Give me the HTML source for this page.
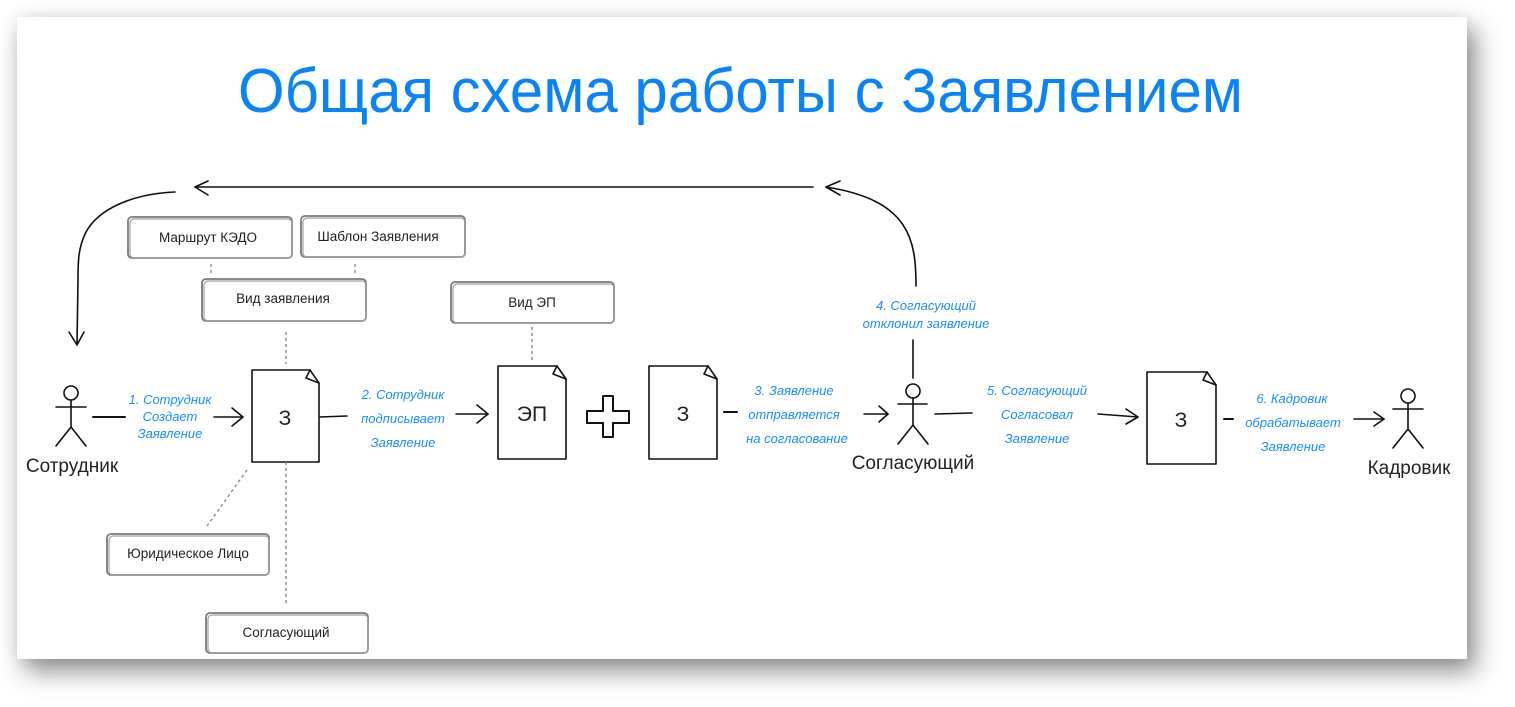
<!DOCTYPE html>
<html><head><meta charset="utf-8">
<style>
html,body{margin:0;padding:0;background:#fff;width:1515px;height:707px;overflow:hidden;}
.card{position:absolute;left:17px;top:17px;width:1450px;height:642px;background:#fff;
box-shadow:8px 12px 24px rgba(0,0,0,0.45),0 0 16px rgba(0,0,0,0.07);}
svg{position:absolute;left:0;top:0;}
text{font-family:"Liberation Sans",sans-serif;}
.bl{fill:#1a8cff;font-style:italic;font-size:13px;}
.bx{fill:#222;font-size:13.5px;}
.act{fill:#222;font-size:19px;}
.doc{fill:#222;font-size:21px;}
</style></head><body>
<div class="card"></div>
<svg width="1515" height="707" viewBox="0 0 1515 707" xmlns="http://www.w3.org/2000/svg">
<text x="238" y="112" font-size="62" fill="#0a82f8" textLength="1005" lengthAdjust="spacingAndGlyphs">Общая схема работы с Заявлением</text>

<g fill="none" stroke="#111" stroke-width="1.6" stroke-linecap="round" stroke-linejoin="round">
<path d="M813 187 L195 187"/>
<path d="M208 181 L195 187 L208 195"/>
<path d="M175 192 C130 194 98 210 86 232 C78 248 78 262 78 280 L77 345"/>
<path d="M69 332 L77 345 L84 332"/>
<path d="M916 286 C916 240 910 200 826 187"/>
<path d="M840 181 L826 187 L840 195"/>
<path d="M913 340 L913 378"/>

<path d="M252 370 L310 370 L319 383 L319 462 L252 462 Z"/>
<path d="M310 370 L306 378 L319 383"/>
<path d="M498 366 L557 366 L566 379 L566 459 L498 459 Z"/>
<path d="M557 366 L553 374 L566 379"/>
<path d="M649 366 L708 366 L717 379 L717 459 L649 459 Z"/>
<path d="M708 366 L704 374 L717 379"/>
<path d="M1147 372 L1207 372 L1216 385 L1216 464 L1147 464 Z"/>
<path d="M1207 372 L1203 380 L1216 385"/>

<path d="M603 396 L613 396 L613 411 L629 411 L629 423 L613 423 L613 437 L603 437 L603 423 L587 423 L587 411 L603 411 Z" stroke-width="2"/>

<path d="M93 417 L125 417" stroke-width="2"/>
<path d="M214 417 L243 417"/><path d="M232 408 L243 417 L232 426"/>
<path d="M320 417 L347 416"/>
<path d="M456 414 L488 414"/><path d="M477 405 L488 414 L477 423"/>
<path d="M724 412 L737 412" stroke-width="2"/>
<path d="M864 414 L888 414"/><path d="M879 406 L888 414 L879 422"/>
<path d="M935 414 L972 413"/>
<path d="M1098 414 L1138 417"/><path d="M1126 409 L1138 417 L1126 424"/>
<path d="M1224 419 L1233 419" stroke-width="2"/>
<path d="M1354 419 L1384 419"/><path d="M1374 412 L1384 419 L1374 426"/>

<circle cx="71" cy="393" r="7"/><path d="M56 407 L86 407 M71 400 L71 427 L56 446 M71 427 L86 446"/>
<circle cx="913" cy="391" r="7"/><path d="M898 404 L927 404 M913 398 L913 425 L898 444 M913 425 L928 444"/>
<circle cx="1408" cy="396" r="7"/><path d="M1393 409 L1423 409 M1408 403 L1408 429 L1393 448 M1408 429 L1423 448"/>
</g>

<g stroke="#888" stroke-width="1.4" stroke-dasharray="3 3" fill="none">
<path d="M211 264 L211 276"/>
<path d="M355 264 L355 276"/>
<path d="M286 332 L286 364"/>
<path d="M532 327 L532 360"/>
<path d="M247 470 L207 526"/>
<path d="M286 462 L286 605"/>
</g>

<g fill="#fff" stroke="#7a7a7a" stroke-width="1.8">
<rect x="128" y="217" width="164" height="41" rx="4"/>
<rect x="130" y="219" width="162" height="39" rx="4" fill="none" stroke="#a0a0a0" stroke-width="1.2"/>
<rect x="301" y="216" width="164" height="41" rx="4"/>
<rect x="303" y="218" width="162" height="39" rx="4" fill="none" stroke="#a0a0a0" stroke-width="1.2"/>
<rect x="202" y="279" width="164" height="42" rx="4"/>
<rect x="204" y="281" width="162" height="40" rx="4" fill="none" stroke="#a0a0a0" stroke-width="1.2"/>
<rect x="451" y="282" width="163" height="41" rx="4"/>
<rect x="453" y="284" width="161" height="39" rx="4" fill="none" stroke="#a0a0a0" stroke-width="1.2"/>
<rect x="107" y="534" width="162" height="41" rx="4"/>
<rect x="109" y="536" width="160" height="39" rx="4" fill="none" stroke="#a0a0a0" stroke-width="1.2"/>
<rect x="206" y="613" width="162" height="40" rx="4"/>
<rect x="208" y="615" width="160" height="38" rx="4" fill="none" stroke="#a0a0a0" stroke-width="1.2"/>
</g>
<text class="bx" x="208" y="242" text-anchor="middle" fill="#111">Маршрут КЭДО</text>
<text class="bx" x="378" y="241" text-anchor="middle" fill="#111">Шаблон Заявления</text>
<text class="bx" x="283" y="303" text-anchor="middle">Вид заявления</text>
<text class="bx" x="532" y="307" text-anchor="middle">Вид ЭП</text>
<text class="bx" x="188" y="558" text-anchor="middle">Юридическое Лицо</text>
<text class="bx" x="286" y="637" text-anchor="middle">Согласующий</text>

<text class="doc" x="285" y="425" text-anchor="middle">З</text>
<text class="doc" x="532" y="421" text-anchor="middle" font-size="19">ЭП</text>
<text class="doc" x="683" y="421" text-anchor="middle">З</text>
<text class="doc" x="1181" y="427" text-anchor="middle">З</text>

<text class="act" x="72" y="472" text-anchor="middle">Сотрудник</text>
<text class="act" x="913" y="469" text-anchor="middle">Согласующий</text>
<text class="act" x="1409" y="474" text-anchor="middle">Кадровик</text>

<g class="bl" text-anchor="middle">
<text x="170" y="404">1. Сотрудник</text>
<text x="170" y="421">Создает</text>
<text x="170" y="438">Заявление</text>
<text x="403" y="399">2. Сотрудник</text>
<text x="403" y="423">подписывает</text>
<text x="403" y="447">Заявление</text>
<text x="794" y="395">3. Заявление</text>
<text x="794" y="419">отправляется</text>
<text x="797" y="443">на согласование</text>
<text x="926" y="310">4. Согласующий</text>
<text x="926" y="328">отклонил заявление</text>
<text x="1037" y="395">5. Согласующий</text>
<text x="1037" y="419">Согласовал</text>
<text x="1037" y="443">Заявление</text>
<text x="1292" y="403">6. Кадровик</text>
<text x="1293" y="427">обрабатывает</text>
<text x="1293" y="451">Заявление</text>
</g>
</svg>
</body></html>
